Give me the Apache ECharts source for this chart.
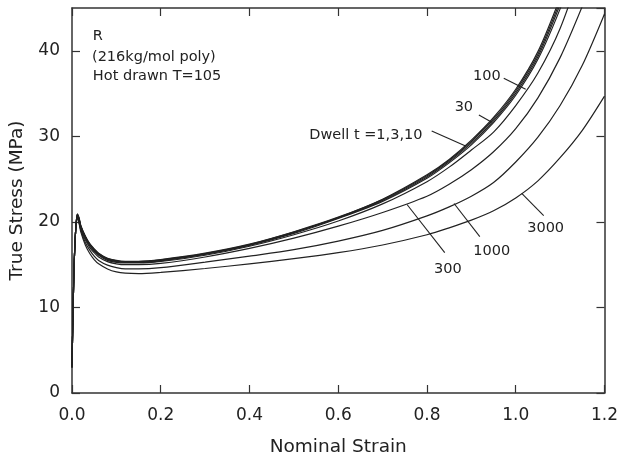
<!DOCTYPE html>
<html><head><meta charset="utf-8">
<script src="https://cdn.jsdelivr.net/npm/echarts@6/dist/echarts.min.js"></script>
<style>html,body{margin:0;padding:0;background:#fff}#c{width:621px;height:462px}</style>
</head><body><div id="c"></div>
<script>
// Nominal strain sample points (shared by all curves)
const strain = [0, 0.004, 0.008, 0.012, 0.016, 0.02, 0.03, 0.04, 0.05, 0.06, 0.08, 0.1, 0.12, 0.15, 0.2, 0.3, 0.4, 0.5, 0.6, 0.7, 0.8, 0.85, 0.9, 0.95, 1.0, 1.05, 1.1, 1.15, 1.2];
// True stress (MPa) for each dwell time
const dwell1    = [3, 13.5, 18.8, 20.9, 20.4, 19.5, 18.3, 17.4, 16.8, 16.3, 15.7, 15.45, 15.35, 15.35, 15.55, 16.3, 17.35, 18.8, 20.5, 22.6, 25.4, 27.2, 29.4, 32.0, 35.3, 39.6, 45.8, null, null];
const dwell3    = [3, 13.5, 18.8, 20.9, 20.45, 19.55, 18.35, 17.45, 16.85, 16.35, 15.75, 15.5, 15.4, 15.4, 15.6, 16.35, 17.4, 18.85, 20.55, 22.65, 25.5, 27.3, 29.55, 32.2, 35.5, 39.9, 46.2, null, null];
const dwell10   = [3, 13.5, 18.8, 20.85, 20.35, 19.45, 18.25, 17.35, 16.75, 16.25, 15.65, 15.4, 15.3, 15.3, 15.5, 16.25, 17.3, 18.75, 20.45, 22.5, 25.25, 27.05, 29.2, 31.8, 35.05, 39.3, 45.4, null, null];
const dwell30   = [3, 13.5, 18.8, 20.8, 20.3, 19.4, 18.2, 17.3, 16.7, 16.2, 15.6, 15.35, 15.27, 15.27, 15.45, 16.2, 17.25, 18.65, 20.4, 22.4, 25.1, 26.9, 29.0, 31.6, 34.8, 39.0, 44.9, 52, null];
const dwell100  = [3, 13.5, 18.8, 20.75, 20.2, 19.3, 18.1, 17.2, 16.6, 16.1, 15.5, 15.27, 15.2, 15.2, 15.38, 16.1, 17.15, 18.5, 20.1, 22.1, 24.7, 26.4, 28.4, 30.5, 33.6, 37.4, 42.6, 50, null];
const dwell300  = [3, 13.5, 18.8, 20.6, 20.05, 19.1, 17.9, 17.0, 16.4, 15.9, 15.35, 15.1, 15.0, 15.0, 15.15, 15.9, 16.9, 18.1, 19.5, 21.1, 23.0, 24.4, 26.1, 28.2, 30.9, 34.5, 39.2, 45.2, null];
const dwell1000 = [3, 13.5, 18.8, 20.5, 19.9, 19.0, 17.6, 16.7, 16.0, 15.5, 14.95, 14.65, 14.5, 14.5, 14.65, 15.3, 16.0, 16.75, 17.75, 19.0, 20.7, 21.75, 23.0, 24.6, 27.0, 29.9, 33.6, 38.3, 44.3];
const dwell3000 = [3, 13.5, 18.8, 20.4, 19.8, 18.8, 17.3, 16.3, 15.6, 15.1, 14.5, 14.15, 14.0, 13.95, 14.1, 14.55, 15.1, 15.7, 16.4, 17.3, 18.5, 19.3, 20.2, 21.3, 22.8, 24.8, 27.5, 30.7, 34.7];
const curves = [dwell1, dwell3, dwell10, dwell30, dwell100, dwell300, dwell1000, dwell3000];
const curveNames = ['1', '3', '10', '30', '100', '300', '1000', '3000'];

// Annotations (data coordinates)
const infoLines = ['R', '(216kg/mol poly)', 'Hot drawn T=105'];
const infoAnchor = [[0.047, 41.72], [0.045, 39.28], [0.047, 37.03]];
const labelTexts = ['Dwell t =1,3,10', '30', '100', '300', '1000', '3000'];
const labelAnchor = [[0.5348, 30.12], [0.8831, 33.40], [0.9348, 37.05], [0.8472, 14.41], [0.9461, 16.52], [1.0674, 19.22]];
const labelAlign = ['left', 'center', 'center', 'center', 'center', 'center'];
const pointers = [
  [[0.8106, 30.62], [0.887, 28.86]],
  [[0.917, 32.5], [0.946, 31.64]],
  [[0.973, 36.8], [1.0225, 35.5]],
  [[0.755, 22.03], [0.840, 16.41]],
  [[0.861, 22.15], [0.919, 18.28]],
  [[1.0135, 23.32], [1.063, 20.74]]
];

const FONT = 'DejaVu Sans';
const INK = '#222';
const chart = echarts.init(document.getElementById('c'), null, {renderer: 'canvas'});

const axisCommon = {
  axisLine: {show: true, onZero: false, lineStyle: {color: '#333', width: 1.5}},
  axisTick: {show: true, inside: true, length: 8, lineStyle: {color: '#333', width: 1.2}},
  splitLine: {show: false}
};

const series = curves.map((ys, i) => ({
  name: curveNames[i],
  type: 'line',
  data: strain.map((x, k) => [x, ys[k]]),
  smooth: 0.3,
  showSymbol: false,
  symbol: 'none',
  clip: true,
  silent: true,
  connectNulls: false,
  lineStyle: {color: INK, width: 1.2},
  z: 3
}));
series[7].markLine = {
  silent: true,
  symbol: ['none', 'none'],
  label: {show: false},
  lineStyle: {color: INK, width: 1.1, type: 'solid'},
  animation: false,
  data: pointers.map(p => [{coord: p[0]}, {coord: p[1]}])
};

chart.setOption({
  animation: false,
  backgroundColor: '#fff',
  grid: {left: 72, right: 15, top: 8, bottom: 69, containLabel: false},
  xAxis: [
    Object.assign({}, axisCommon, {
      type: 'value', min: 0, max: 1.2, interval: 0.2, position: 'bottom',
      name: 'Nominal Strain', nameLocation: 'middle', nameGap: 45,
      nameTextStyle: {fontFamily: FONT, fontSize: 18.5, color: INK},
      axisLabel: {fontFamily: FONT, fontSize: 17, color: INK, margin: 14, formatter: v => v.toFixed(1)}
    }),
    Object.assign({}, axisCommon, {
      type: 'value', min: 0, max: 1.2, interval: 0.2, position: 'top',
      axisLabel: {show: false}
    })
  ],
  yAxis: [
    Object.assign({}, axisCommon, {
      type: 'value', min: 0, max: 45, interval: 10, position: 'left',
      name: 'True Stress (MPa)', nameLocation: 'middle', nameGap: 45, nameRotate: 90,
      nameTextStyle: {fontFamily: FONT, fontSize: 18.5, color: INK},
      axisLabel: {fontFamily: FONT, fontSize: 17, color: INK, margin: 12, showMaxLabel: false}
    }),
    Object.assign({}, axisCommon, {
      type: 'value', min: 0, max: 45, interval: 10, position: 'right',
      axisLabel: {show: false}
    })
  ],
  series: series
});

function place() {
  const g = [];
  infoLines.forEach((t, i) => {
    const p = chart.convertToPixel({xAxisIndex: 0, yAxisIndex: 0}, infoAnchor[i]);
    g.push({type: 'text', x: p[0], y: p[1], silent: true,
      style: {text: t, fill: INK, font: '14.5px "' + FONT + '"', textAlign: 'left', textVerticalAlign: 'middle'}});
  });
  labelTexts.forEach((t, i) => {
    const p = chart.convertToPixel({xAxisIndex: 0, yAxisIndex: 0}, labelAnchor[i]);
    g.push({type: 'text', x: p[0], y: p[1], silent: true,
      style: {text: t, fill: INK, font: '14.5px "' + FONT + '"', textAlign: labelAlign[i], textVerticalAlign: 'middle'}});
  });
  chart.setOption({graphic: g});
}
place();
</script>
</body></html>
